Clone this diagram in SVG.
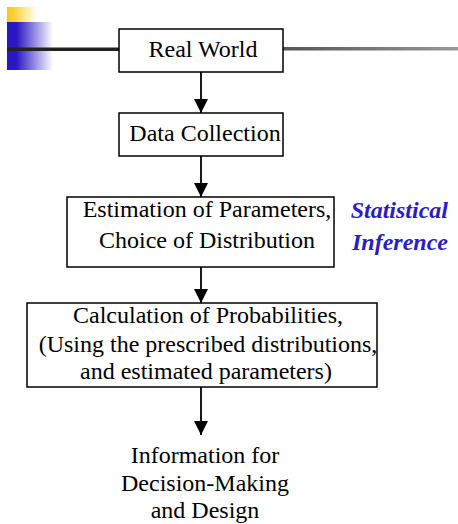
<svg xmlns="http://www.w3.org/2000/svg" width="458" height="524" viewBox="0 0 458 524">
<defs>
<linearGradient id="gy" x1="0" y1="0" x2="1" y2="0"><stop offset="0" stop-color="#f8c814"/><stop offset="0.3" stop-color="#fbd640"/><stop offset="1" stop-color="#ffffff"/></linearGradient>
<linearGradient id="gb" x1="0" y1="0" x2="1" y2="0"><stop offset="0" stop-color="#2a16c4"/><stop offset="0.2" stop-color="#2a16c4"/><stop offset="1" stop-color="#ffffff"/></linearGradient>
<linearGradient id="gl" x1="0" y1="0" x2="1" y2="0"><stop offset="0" stop-color="#555555"/><stop offset="1" stop-color="#999999"/></linearGradient>
<marker id="ah" viewBox="0 0 14 14" refX="14" refY="7" markerWidth="14" markerHeight="14" markerUnits="userSpaceOnUse" orient="auto"><path d="M0,0 L14,7 L0,14 Z" fill="#000"/></marker>
</defs>
<g id="decor">
<rect x="7" y="7" width="30" height="15" fill="url(#gy)"/>
<rect x="7" y="22" width="46" height="48" fill="url(#gb)"/>
<rect x="7" y="47.5" width="112" height="3.5" fill="#222"/>
<rect x="283" y="47" width="175" height="3.5" fill="url(#gl)"/>
</g>
<g id="connectors" stroke="#000" stroke-width="1.8" fill="none" marker-end="url(#ah)">
<line x1="201" y1="72" x2="201" y2="113"/>
<line x1="201" y1="156" x2="201" y2="197"/>
<line x1="201" y1="267" x2="201" y2="303"/>
<line x1="201" y1="387" x2="201" y2="435"/>
</g>
<g font-family="'Liberation Serif', 'Times New Roman', Times, 'DejaVu Serif', serif" font-size="24">
<g id="real-world">
<rect x="119" y="29" width="164" height="43" fill="#fff" stroke="#000" stroke-width="1.5"/>
<text text-anchor="middle" x="203" y="57">Real World</text>
</g>
<g id="data-collection">
<rect x="119" y="113" width="164" height="43" fill="#fff" stroke="#000" stroke-width="1.5"/>
<text text-anchor="middle" x="205" y="141">Data Collection</text>
</g>
<g id="estimation">
<rect x="67" y="197" width="267" height="70" fill="#fff" stroke="#000" stroke-width="1.5"/>
<text text-anchor="middle" x="207" y="217">Estimation of Parameters,</text>
<text text-anchor="middle" x="207" y="248">Choice of Distribution</text>
</g>
<g id="statistical-inference" font-weight="bold" font-style="italic" fill="#2b1cc4">
<text text-anchor="end" x="448" y="218">Statistical</text>
<text text-anchor="end" x="448" y="250">Inference</text>
</g>
<g id="calculation">
<rect x="27" y="303" width="350" height="84" fill="#fff" stroke="#000" stroke-width="1.5"/>
<text text-anchor="middle" x="208" y="323">Calculation of Probabilities,</text>
<text text-anchor="middle" x="208" y="352">(Using the prescribed distributions,</text>
<text text-anchor="middle" x="206" y="379">and estimated parameters)</text>
</g>
<g id="information">
<text text-anchor="middle" x="205" y="463">Information for</text>
<text text-anchor="middle" x="205" y="491">Decision-Making</text>
<text text-anchor="middle" x="205" y="518">and Design</text>
</g>
</g>
</svg>
